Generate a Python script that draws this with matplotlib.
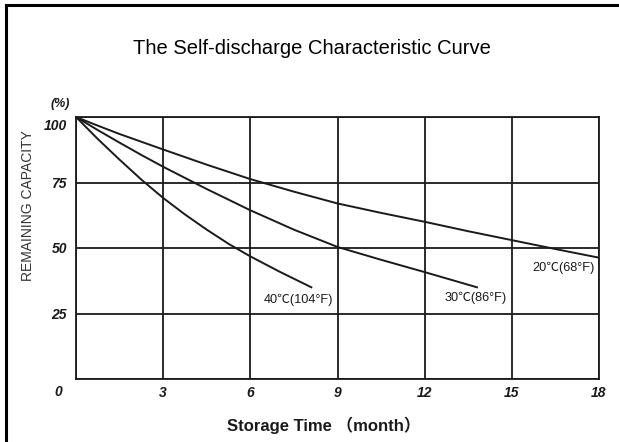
import matplotlib
matplotlib.use('Agg')
import matplotlib.pyplot as plt
import matplotlib.transforms as mtransforms
from matplotlib.lines import Line2D

plt.rcParams['font.family'] = ['Liberation Sans', 'Noto Sans CJK SC', 'DejaVu Sans']

# curves (month, remaining capacity %)
months_20 = [0, 0.75, 1.5, 3, 4.5, 6, 7.5, 9, 10.5, 12, 13.5, 15, 16.5, 18]
cap_20 = [100, 96.7, 93.5, 87.6, 81.8, 76.3, 71.5, 67.0, 63.4, 60.0, 56.4, 53.0, 49.6, 46.3]
months_30 = [0, 0.75, 1.5, 2.25, 3, 4.5, 6, 7.5, 9, 10.5, 12, 13.8]
cap_30 = [100, 95.0, 90.2, 85.5, 81.0, 72.5, 64.4, 57.0, 50.4, 45.5, 40.8, 35.0]
months_40 = [0, 0.75, 1.5, 2.25, 3, 3.75, 4.5, 5.25, 6, 7, 8.1]
cap_40 = [100, 91.6, 83.7, 76.1, 69.1, 62.8, 57.0, 51.6, 46.8, 41.0, 35.0]

curve_labels = ['20\u2103(68\u00b0F)', '30\u2103(86\u00b0F)', '40\u2103(104\u00b0F)']
label_pos = [(15.7, 42.6), (12.7, 30.9), (6.45, 30.4)]

x_ticks = [3, 6, 9, 12, 15, 18]
y_ticks = [25, 50, 75, 100]

W, H = 619, 442
fig = plt.figure(figsize=(W / 100, H / 100), dpi=100)
ax = fig.add_axes([76 / W, 1 - 379 / H, 523 / W, 262 / H])

ink = '#1a1a1a'
for m, c in [(months_20, cap_20), (months_30, cap_30), (months_40, cap_40)]:
    ax.plot(m, c, color=ink, lw=1.4, solid_joinstyle='round', zorder=3)

for txt, (x, y) in zip(curve_labels, label_pos):
    ax.text(x, y, txt, fontsize=9.2, color=ink, ha='left', va='center')

ax.set_xlim(0, 18)
ax.set_ylim(0, 100)
ax.set_xticks([0] + x_ticks)
ax.set_yticks([0] + y_ticks)
ax.grid(True, color=ink, lw=1.3)
for s in ax.spines.values():
    s.set_color(ink)
    s.set_linewidth(1.3)
ax.tick_params(length=0, labelsize=10, colors=ink)
ax.tick_params(axis='x', pad=5)
ax.tick_params(axis='y', pad=6.5)
ax.set_xticklabels([''] + [str(t) for t in x_ticks], fontstyle='italic', fontweight='bold')
ax.set_yticklabels([''] + [str(t) for t in y_ticks], fontstyle='italic', fontweight='bold')

# 100 label sits a bit lower to leave space for (%)
lbl100 = ax.get_yticklabels()[-1]
lbl100.set_transform(lbl100.get_transform() + mtransforms.ScaledTranslation(0, -8 / 100, fig.dpi_scale_trans))

ax.text(-0.6, -5, '0', fontsize=10, fontstyle='italic', fontweight='bold', color=ink, ha='center', va='center')
ax.text(-0.2, 104.8, '(%)', fontsize=9, fontstyle='italic', fontweight='bold', color=ink, ha='right', va='center')

fig.text(28 / W, 1 - 206 / H, 'REMAINING CAPACITY', rotation=90, fontsize=10,
         color='#333333', ha='center', va='center')
fig.text(324 / W, 1 - 425 / H, 'Storage Time \uff08month\uff09', fontsize=12, fontweight='bold',
         color=ink, ha='center', va='center')
fig.text(312 / W, 1 - 49 / H, 'The Self-discharge Characteristic Curve', fontsize=14.5,
         color='black', ha='center', va='center')

# partial frame around the picture
fig.add_artist(Line2D([6 / W, 6 / W], [0, 1 - 5 / H], color='black', lw=2.2, transform=fig.transFigure))
fig.add_artist(Line2D([6 / W, 1], [1 - 5 / H, 1 - 5 / H], color='black', lw=2.2, transform=fig.transFigure))

fig.savefig('out.png', dpi=100)
